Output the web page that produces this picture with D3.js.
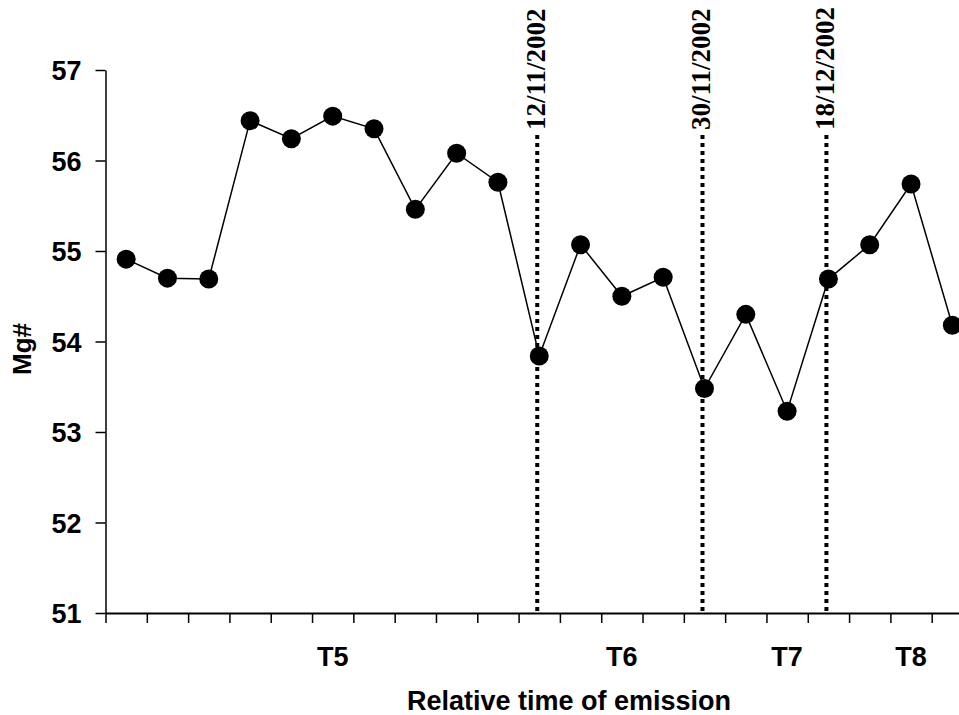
<!DOCTYPE html>
<html>
<head>
<meta charset="utf-8">
<script src="https://cdn.jsdelivr.net/npm/d3@7"></script>
<style>
  body { margin: 0; background: #fff; }
  svg { display: block; }
</style>
</head>
<body>
<div id="chart"></div>
<script>
// Mg# of each sample, in order of emission
const mgValues = [54.91, 54.70, 54.69, 56.44, 56.24, 56.49, 56.35, 55.46, 56.08, 55.76,
  53.84, 55.07, 54.50, 54.71, 53.48, 54.30, 53.23, 54.69, 55.07, 55.74, 54.18]

// group labels under the axis and the sample index they sit under
const periodLabels = ['T5', 'T6', 'T7', 'T8']
const periodIndex = [5, 12, 16, 19]

// dated events, drawn as dotted lines through a sample
const eventDates = ['12/11/2002', '30/11/2002', '18/12/2002']
const eventIndex = [10, 14, 17]

const yTicks = [51, 52, 53, 54, 55, 56, 57]

const width = 959
const height = 715

const svg = d3.select('#chart').append('svg')
  .attr('width', width)
  .attr('height', height)

// the axis runs past the right edge of the picture, as in the original
const x = d3.scaleLinear().domain([0, mgValues.length]).range([105.5, 973])
const y = d3.scaleLinear().domain([51, 57]).range([613, 70])

const sans = 'Liberation Sans, Arial, sans-serif'
const serif = 'Liberation Serif, Times New Roman, serif'

// y axis
const yAxis = svg.append('g')
  .attr('transform', `translate(${x(0)},0)`)
  .call(d3.axisLeft(y).tickValues(yTicks).tickFormat(d3.format('d')).tickSize(10).tickSizeOuter(0))
yAxis.select('.domain').attr('stroke-width', 1.5)
yAxis.selectAll('.tick line').attr('stroke-width', 1.5)
yAxis.selectAll('.tick text')
  .attr('x', -24)
  .attr('dy', '0.36em')
  .attr('font-family', sans)
  .attr('font-weight', 'bold')
  .attr('font-size', 27)
  .attr('fill', '#000')

// x axis, ticks at category boundaries
const xAxis = svg.append('g')
  .attr('transform', `translate(0,${y(51)})`)
  .call(d3.axisBottom(x).tickValues(d3.range(mgValues.length + 1)).tickFormat('').tickSize(10).tickSizeOuter(0))
xAxis.select('.domain').attr('stroke-width', 2)
xAxis.selectAll('.tick line').attr('stroke-width', 1.5)

// period labels
svg.append('g').selectAll('text')
  .data(periodLabels)
  .join('text')
  .attr('x', (d, i) => x(periodIndex[i] + 0.5))
  .attr('y', 666)
  .attr('text-anchor', 'middle')
  .attr('font-family', sans)
  .attr('font-weight', 'bold')
  .attr('font-size', 27)
  .text(d => d)

// axis titles
svg.append('text')
  .attr('x', 569)
  .attr('y', 710)
  .attr('text-anchor', 'middle')
  .attr('font-family', sans)
  .attr('font-weight', 'bold')
  .attr('font-size', 27)
  .text('Relative time of emission')

svg.append('text')
  .attr('transform', `translate(31,349) rotate(-90)`)
  .attr('text-anchor', 'middle')
  .attr('font-family', sans)
  .attr('font-weight', 'bold')
  .attr('font-size', 26)
  .text('Mg#')

// dotted event lines and their dates
const events = svg.append('g')
events.selectAll('line')
  .data(eventDates)
  .join('line')
  .attr('x1', (d, i) => x(eventIndex[i] + 0.5) - 2)
  .attr('x2', (d, i) => x(eventIndex[i] + 0.5) - 2)
  .attr('y1', 135)
  .attr('y2', y(51))
  .attr('stroke', '#000')
  .attr('stroke-width', 4)
  .attr('stroke-dasharray', '4,4')

events.selectAll('text')
  .data(eventDates)
  .join('text')
  .attr('transform', (d, i) => `translate(${x(eventIndex[i] + 0.5) + 6},130) rotate(-90)`)
  .attr('font-family', serif)
  .attr('font-weight', 'bold')
  .attr('font-size', 27)
  .text(d => d)

// series
const line = d3.line()
  .x((d, i) => x(i + 0.5))
  .y(d => y(d))

svg.append('path')
  .datum(mgValues)
  .attr('fill', 'none')
  .attr('stroke', '#000')
  .attr('stroke-width', 1.5)
  .attr('d', line)

svg.append('g').selectAll('circle')
  .data(mgValues)
  .join('circle')
  .attr('cx', (d, i) => x(i + 0.5))
  .attr('cy', d => y(d))
  .attr('r', 9.5)
  .attr('fill', '#000')
</script>
</body>
</html>
